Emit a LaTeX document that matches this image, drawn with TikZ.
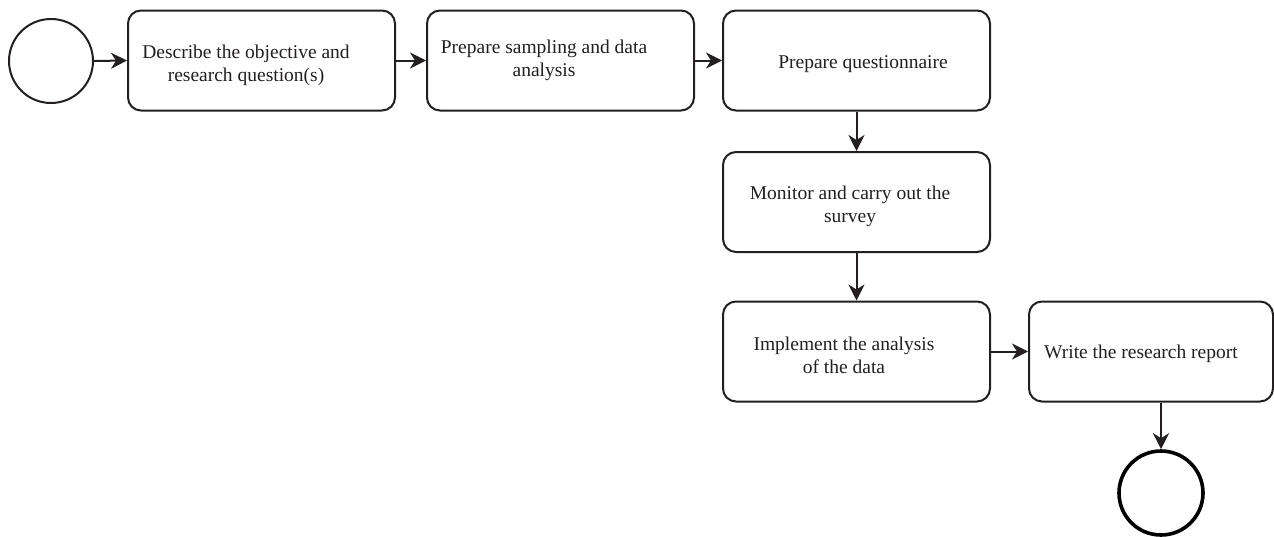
\documentclass[tikz,border=0pt]{standalone}
\usepackage{fontspec}
\setmainfont{Liberation Serif}
\usetikzlibrary{arrows.meta}
\definecolor{ink}{HTML}{231F20}
\begin{document}
\begin{tikzpicture}[x=1pt,y=-1pt,
  task/.style={draw=ink, line width=2pt, rounded corners=13pt, minimum width=267pt, minimum height=100pt, inner sep=0pt},
  lbl/.style={font=\fontsize{19.5}{23.5}\selectfont, text=ink, align=center, inner sep=0pt},
  flow/.style={draw=ink, line width=2pt, -{Stealth[length=16pt,width=16pt,inset=5pt]}},
  startev/.style={draw=ink, circle, line width=2pt, minimum size=84pt, inner sep=0pt},
  endev/.style={draw=black, circle, line width=3.6pt, minimum size=84pt, inner sep=0pt}]
\useasboundingbox (0,0) rectangle (1274,536);
\node[startev] (s) at (51,61) {};
\node[task] (b1) at (261.5,60.5) {};
\node[task] (b2) at (560.5,60.5) {};
\node[task] (b3) at (856.5,60.5) {};
\node[task] (b4) at (856.5,202) {};
\node[task] (b5) at (856.5,351.5) {};
\node[task, minimum width=244pt] (b6) at (1151,351.5) {};
\node[endev] (e) at (1161,493) {};
\node[lbl] (t1) at (246,65.5) {Describe the objective and\\research question(s)};
\node[lbl] (t2) at (544,60.5) {Prepare sampling and data\\analysis};
\node[lbl] (t3) at (863,64.5) {Prepare questionnaire};
\node[lbl] (t4) at (850,206.5) {Monitor and carry out the\\survey};
\node[lbl] (t5) at (844,355.5) {Implement the analysis\\of the data};
\node[lbl] (t6) at (1141,354) {Write the research report};
\draw[flow] (s.east) -- (b1.west);
\draw[flow] (b1.east) -- (b2.west);
\draw[flow] (b2.east) -- (b3.west);
\draw[flow] (b3.south) -- (b4.north);
\draw[flow] (b4.south) -- (b5.north);
\draw[flow] (b5.east) -- (b6.west);
\draw[flow] (b6.south -| e.north) -- (e.north);
\end{tikzpicture}
\end{document}
